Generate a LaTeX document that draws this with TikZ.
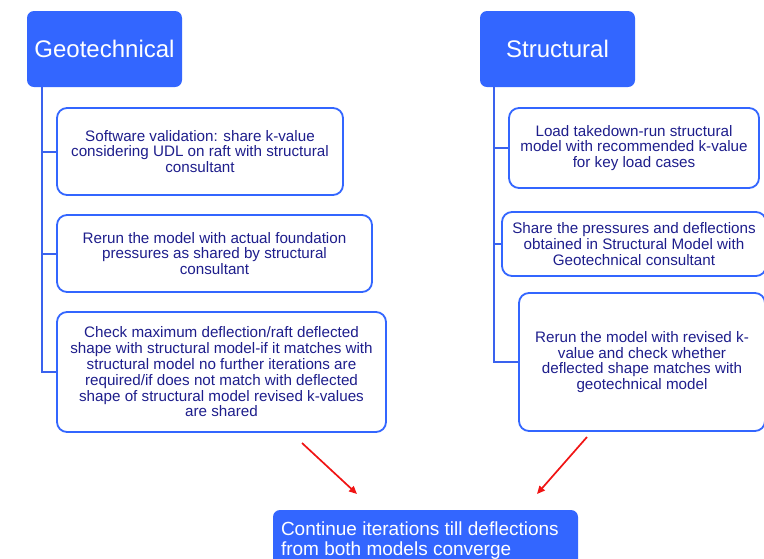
\documentclass[tikz,border=0pt]{standalone}
\usepackage{fontspec}
\setmainfont{Liberation Sans}
\usetikzlibrary{arrows.meta,calc}

\definecolor{hdrblue}{RGB}{51,102,255}
\definecolor{lineblue}{RGB}{58,98,238}
\definecolor{txtnavy}{RGB}{30,30,140}
\definecolor{arrred}{RGB}{240,20,20}

\tikzset{
  header/.style={fill=hdrblue, draw=none, rounded corners=7pt, text=white,
    font=\fontsize{24}{28}\selectfont, inner sep=0pt},
  stepbox/.style={draw=hdrblue, line width=1.8pt, fill=white, rounded corners=10pt,
    text=txtnavy, align=center, inner sep=0pt,
    font=\fontsize{15.2}{15.8}\selectfont},
  conn/.style={draw=lineblue, line width=2pt},
  redarrow/.style={draw=arrred, line width=1.7pt,
    -{Triangle[length=8pt,width=7pt]}},
  endbox/.style={fill=hdrblue, draw=none, rounded corners=7pt, inner sep=0pt},
  endtext/.style={text=white, align=left, inner sep=0pt,
    font=\fontsize{19}{20}\selectfont}
}

\begin{document}
\begin{tikzpicture}[x=1pt,y=-1pt]
  \useasboundingbox (0,0) rectangle (764,558);
  \clip (0,0) rectangle (764,558);

  % column headers
  \node[header, minimum width=155pt, minimum height=76pt] (gh) at (104.5,49) {Geotechnical};
  \node[header, minimum width=155pt, minimum height=76pt] (sh) at (557.5,49) {Structural};

  % geotechnical steps
  \node[stepbox, minimum width=286pt, minimum height=87pt] (g1) at (200,151.5)
    {Software validation: share k-value\\considering UDL on raft with structural\\consultant};
  \node[stepbox, minimum width=315pt, minimum height=77pt] (g2) at (214.5,253.5)
    {Rerun the model with actual foundation\\pressures as shared by structural\\consultant};
  \node[stepbox, minimum width=329pt, minimum height=120pt] (g3) at (221.5,372)
    {Check maximum deflection/raft deflected\\shape with structural model-if it matches with\\structural model no further iterations are\\required/if does not match with deflected\\shape of structural model revised k-values\\are shared};

  % structural steps
  \node[stepbox, minimum width=250pt, minimum height=80pt] (s1) at (634,148)
    {Load takedown-run structural\\model with recommended k-value\\for key load cases};
  \node[stepbox, minimum width=264pt, minimum height=64pt] (s2) at (634,244)
    {Share the pressures and deflections\\obtained in Structural Model with\\Geotechnical consultant};
  \node[stepbox, minimum width=246pt, minimum height=138pt] (s3) at (642,362)
    {Rerun the model with revised k-\\value and check whether\\deflected shape matches with\\geotechnical model};

  % spines and branches
  \coordinate (gspine) at (42,0);
  \coordinate (sspine) at (494,0);
  \draw[conn] (gh.south -| gspine) |- (g3.west);
  \draw[conn] (g1.west -| gspine) -- (g1.west);
  \draw[conn] (g2.west -| gspine) -- (g2.west);
  \draw[conn] (sh.south -| sspine) |- (s3.west);
  \draw[conn] (s1.west -| sspine) -- (s1.west);
  \draw[conn] (s2.west -| sspine) -- (s2.west);

  % convergence box
  \node[endbox, minimum width=305pt, minimum height=60pt] (conv) at (425.5,540) {};
  \node[endtext, anchor=west] (convtxt) at ($(conv.west)+(8,1)$)
    {Continue iterations till deflections\\from both models converge};

  % arrows into the convergence box
  \coordinate (la) at (302,443);
  \coordinate (lb) at (357,494);
  \coordinate (ra) at (587,437);
  \coordinate (rb) at (537,494);
  \draw[redarrow] (la) -- (lb);
  \draw[redarrow] (ra) -- (rb);
\end{tikzpicture}
\end{document}
